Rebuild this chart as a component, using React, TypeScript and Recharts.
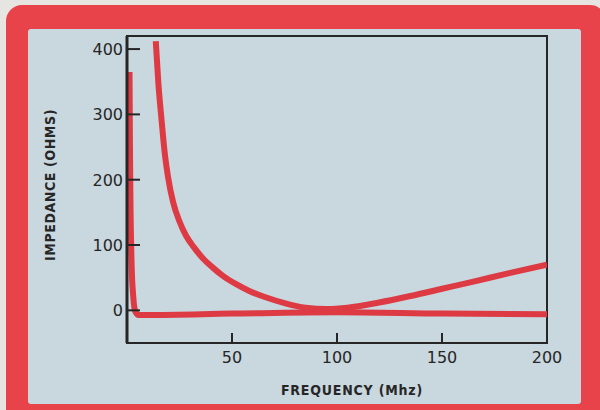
import React from "react"
import { LineChart, Line, XAxis, YAxis, ReferenceArea } from "recharts"

// frequency (MHz) / impedance (ohms)
const sharpFreq = [1.2, 1.4, 1.7, 2.2, 3, 4, 5.5, 10, 50, 100, 150, 200]
const sharpImp = [365, 250, 150, 70, 20, -2, -7, -7, -5, -3, -5, -6]

const broadFreq = [13.7, 15, 16.5, 18, 19.5, 22, 25, 28, 32, 36, 41, 46, 52, 58, 66, 75, 85, 95, 105, 120, 135, 150, 165, 182, 200]
const broadImp = [412, 345, 290, 240, 205, 165, 136, 115, 96, 80, 65, 52, 40, 30, 20, 11, 4, 2, 4, 12, 22, 33, 44, 57, 70]

const xTicks = [50, 100, 150, 200]
const yTicks = [0, 100, 200, 300, 400]

const sharpData = sharpFreq.map((f, i) => ({ freq: f, imp: sharpImp[i] }))
const broadData = broadFreq.map((f, i) => ({ freq: f, imp: broadImp[i] }))

const INK = "#262626"
const LINE_RED = "#dd3a44"
const FONT = "'DejaVu Sans', sans-serif"
const LABEL_FONT = "'DejaVu Sans Condensed', 'DejaVu Sans', sans-serif"

const XTick = (props: any) => {
    const { x, y, payload } = props
    return (
        <g>
            <line x1={x} x2={x} y1={y} y2={y - 10} stroke={INK} strokeWidth={2} />
            <text x={x} y={y + 20} textAnchor="middle" fill={INK} fontSize={16} fontFamily={FONT}>
                {payload.value}
            </text>
        </g>
    )
}

const YTick = (props: any) => {
    const { x, y, payload } = props
    return (
        <g>
            <line x1={x} x2={x + 13} y1={y} y2={y} stroke={INK} strokeWidth={2} />
            <text x={x - 4} y={y + 6} textAnchor="end" fill={INK} fontSize={16} fontFamily={FONT}>
                {payload.value}
            </text>
        </g>
    )
}

export default function App() {
    return (
        <div style={{ position: "absolute", left: 0, top: 0, width: 600, height: 410, background: "#e7e5e2", overflow: "hidden" }}>
            {/* red frame */}
            <div style={{ position: "absolute", left: 6, top: 5, width: 600, height: 420, background: "#e8434b", borderRadius: 16 }} />
            {/* blue panel */}
            <div style={{ position: "absolute", left: 28, top: 29, width: 553, height: 375, background: "#c9d7df", borderRadius: 3 }} />

            <div style={{ position: "absolute", left: 0, top: 0 }}>
                <LineChart width={600} height={410} margin={{ top: 36, right: 53, bottom: 37, left: 67 }}>
                    <XAxis
                        type="number"
                        dataKey="freq"
                        domain={[0, 200]}
                        ticks={xTicks}
                        allowDataOverflow
                        height={30}
                        tickSize={0}
                        tickMargin={0}
                        tickLine={false}
                        axisLine={{ stroke: INK, strokeWidth: 2 }}
                        tick={<XTick />}
                    />
                    <YAxis
                        type="number"
                        dataKey="imp"
                        domain={[-50, 420]}
                        ticks={yTicks}
                        allowDataOverflow
                        width={60}
                        tickSize={0}
                        tickMargin={0}
                        tickLine={false}
                        axisLine={{ stroke: INK, strokeWidth: 3 }}
                        tick={<YTick />}
                    />
                    <ReferenceArea x1={0} x2={200} y1={-50} y2={420} fill="none" stroke={INK} strokeWidth={2} />
                    <Line
                        data={sharpData}
                        dataKey="imp"
                        type="monotone"
                        stroke={LINE_RED}
                        strokeWidth={6}
                        dot={false}
                        isAnimationActive={false}
                    />
                    <Line
                        data={broadData}
                        dataKey="imp"
                        type="monotone"
                        stroke={LINE_RED}
                        strokeWidth={6}
                        dot={false}
                        isAnimationActive={false}
                    />
                </LineChart>
            </div>

            <div style={{ position: "absolute", left: 0, width: 600, top: 0 }}>
                <div style={{ position: "absolute", left: 252, width: 200, top: 382, textAlign: "center", fontFamily: LABEL_FONT, fontWeight: "bold", fontSize: 14, color: INK, letterSpacing: 0.8, whiteSpace: "nowrap" }}>
                    FREQUENCY (Mhz)
                </div>
                <div style={{ position: "absolute", left: 50 - 100, top: 185 - 9, width: 200, height: 18, lineHeight: "18px", textAlign: "center", transform: "rotate(-90deg)", fontFamily: LABEL_FONT, fontWeight: "bold", fontSize: 14, color: INK, letterSpacing: 0.6, whiteSpace: "nowrap" }}>
                    IMPEDANCE (OHMS)
                </div>
            </div>
        </div>
    )
}
